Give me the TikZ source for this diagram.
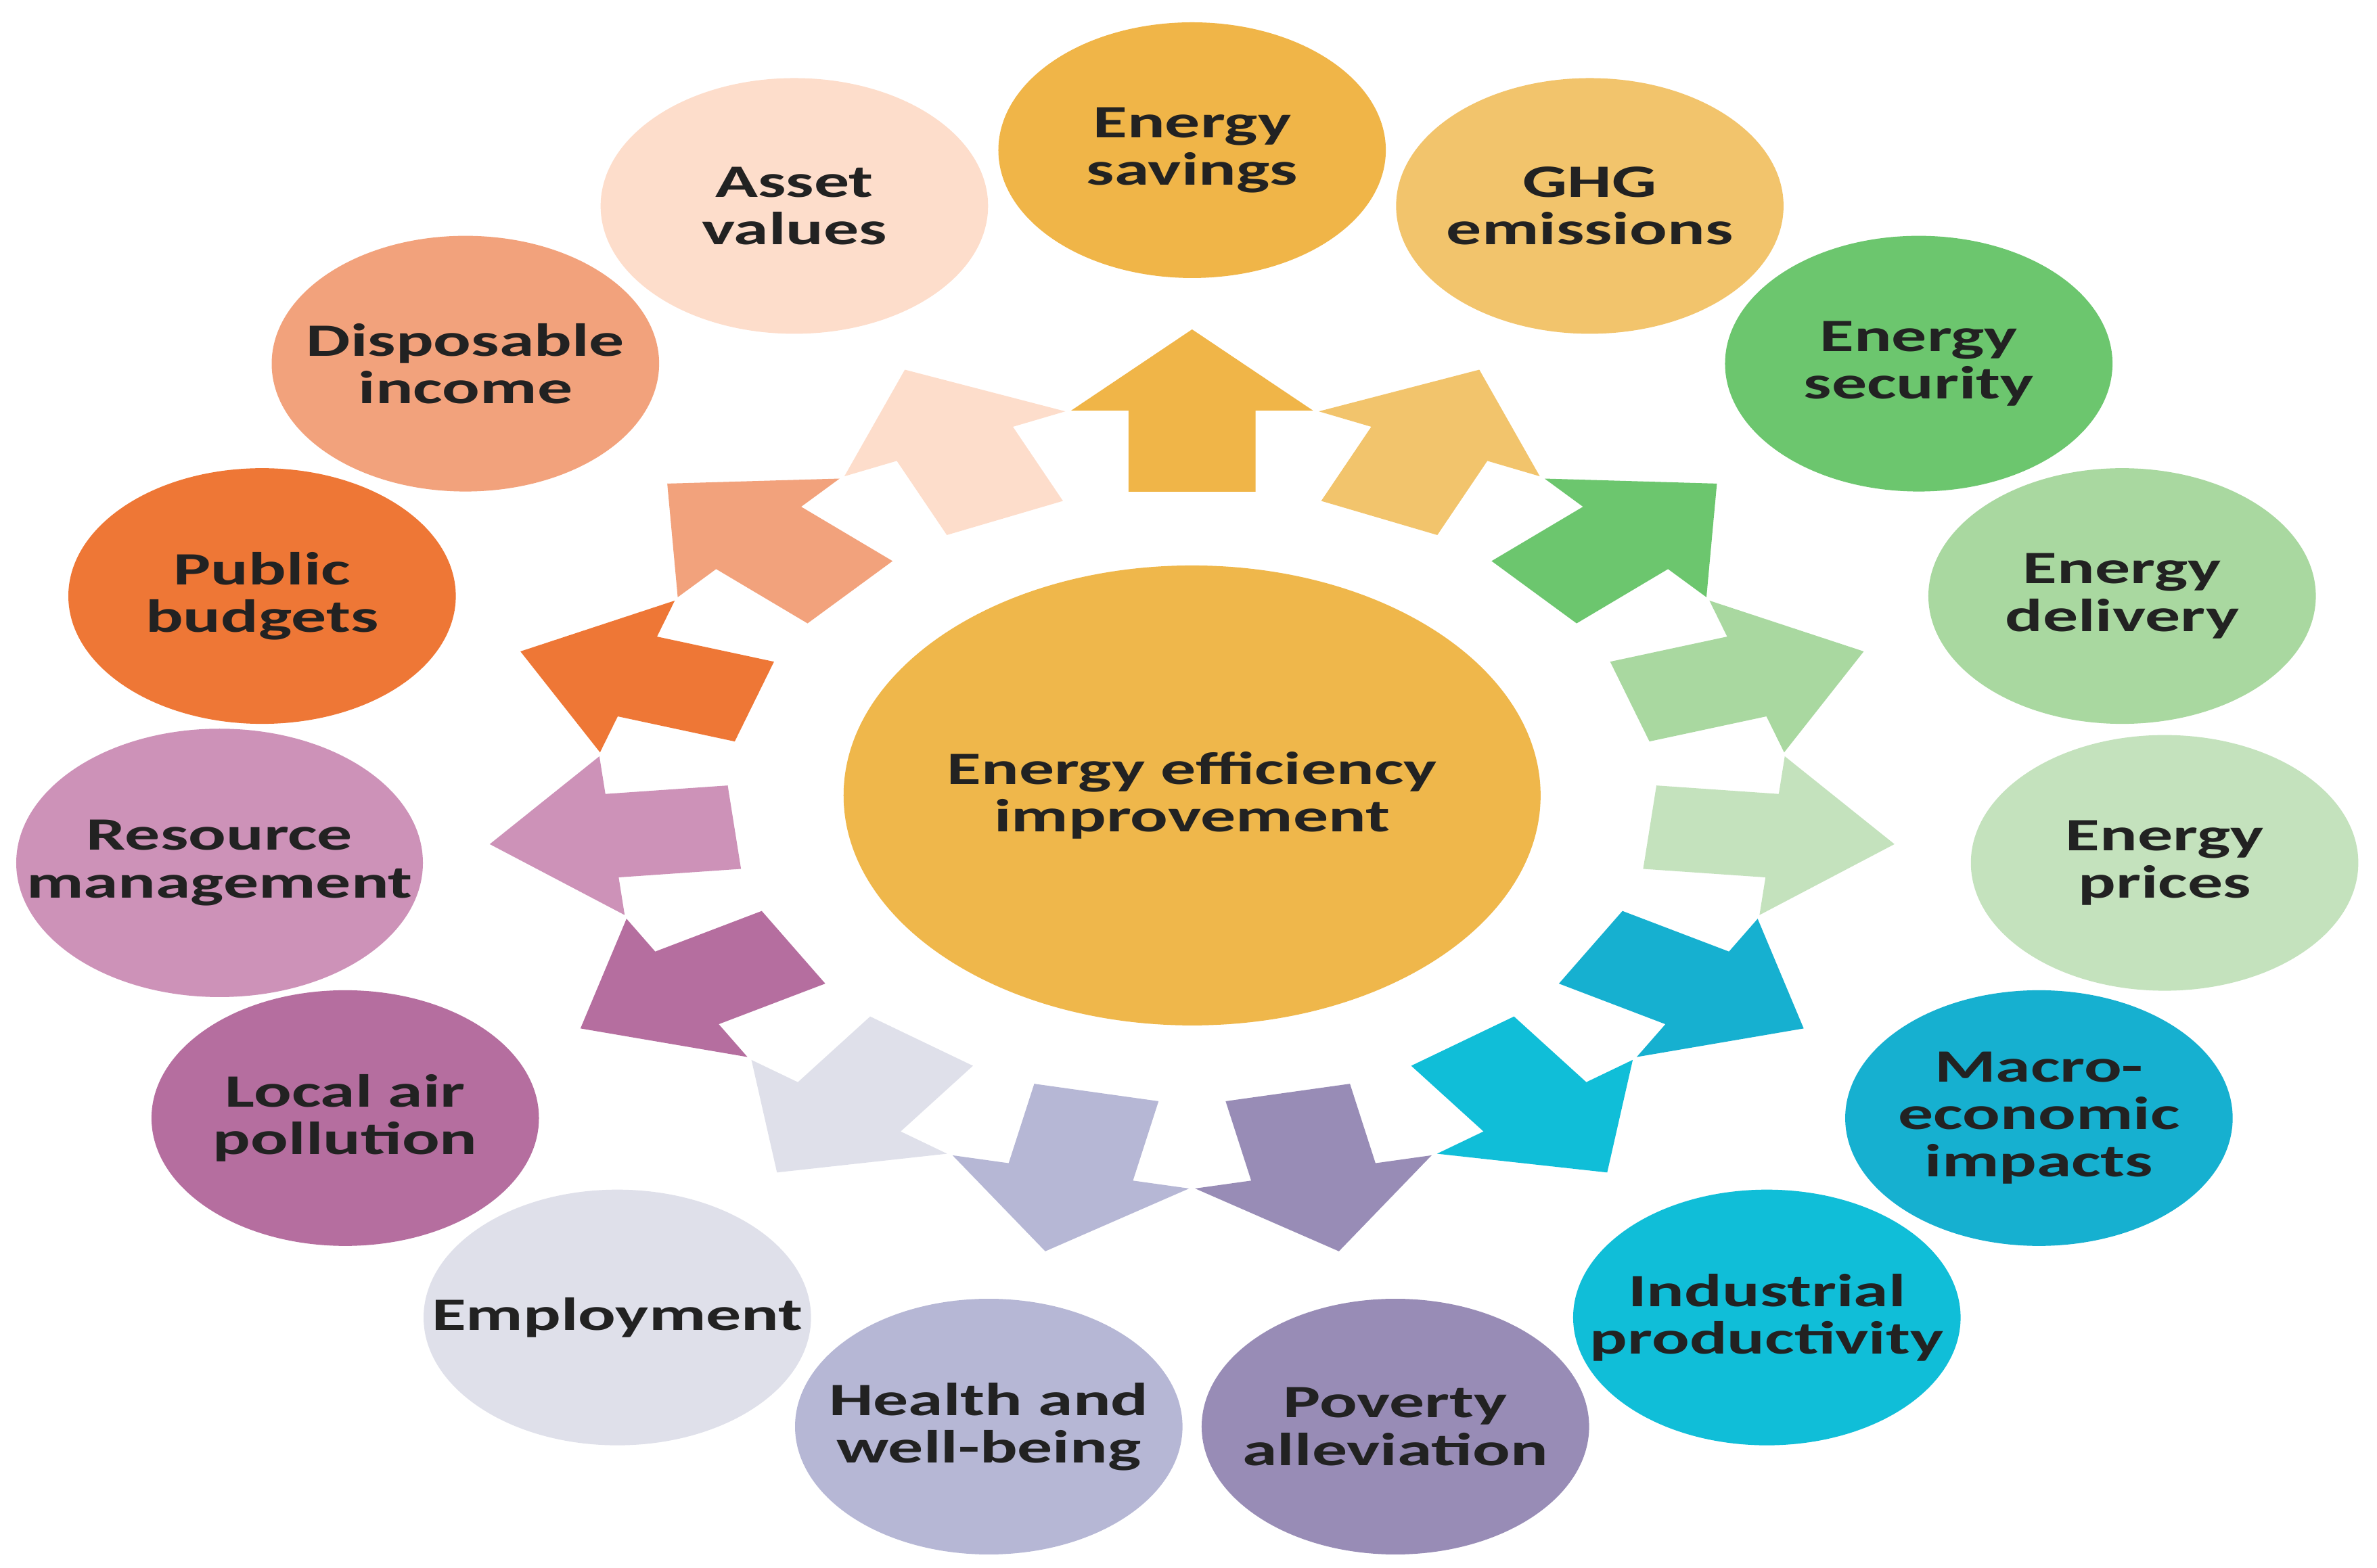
\documentclass[tikz,border=0pt]{standalone}
\usepackage{fontspec}
\setmainfont{Carlito}
\definecolor{hubgold}{HTML}{EFB74B}
\definecolor{savings}{HTML}{F0B548}
\definecolor{ghg}{HTML}{F2C46C}
\definecolor{security}{HTML}{6CC66E}
\definecolor{delivery}{HTML}{A9D8A0}
\definecolor{prices}{HTML}{C4E2BD}
\definecolor{macro}{HTML}{16B0D0}
\definecolor{industry}{HTML}{10BED8}
\definecolor{poverty}{HTML}{988CB6}
\definecolor{health}{HTML}{B6B7D5}
\definecolor{employ}{HTML}{DFE0EA}
\definecolor{airpol}{HTML}{B56E9F}
\definecolor{resource}{HTML}{CD92B8}
\definecolor{budgets}{HTML}{EE7736}
\definecolor{income}{HTML}{F2A27C}
\definecolor{asset}{HTML}{FDDDCB}
\definecolor{textdark}{HTML}{222222}
\tikzstyle{bubble}=[circle, minimum size=3.78cm, inner sep=0pt, align=center, text=textdark, font=\bfseries\fontsize{19.5}{20}\selectfont]
\tikzstyle{hub}=[bubble, minimum size=6.8cm]

\begin{document}
\begin{tikzpicture}[xscale=1.515, every node/.style={transform shape}]
		   \useasboundingbox (-11.63,-11.42) rectangle (11.56,11.76);
		   \begin{scope}
			   \node (hub) at (0, 0)[hub, fill=hubgold] {Energy efficiency\\improvement};
			   \node (savings) at (90:9.54)[bubble, fill=savings] {Energy\\savings};
			   \node (ghg) at (66:9.54)[bubble, fill=ghg] {GHG\\emissions};
			   \node (security) at (42:9.54)[bubble, fill=security] {Energy\\security};
			   \node (delivery) at (18:9.54)[bubble, fill=delivery] {Energy\\delivery};
			   \node (prices) at (-6:9.54)[bubble, fill=prices] {Energy\\prices};
			   \node (macro) at (-30:9.54)[bubble, fill=macro] {Macro-\\economic\\impacts};
			   \node (industry) at (-54:9.54)[bubble, fill=industry] {Industrial\\productivity};
			   \node (poverty) at (-78:9.54)[bubble, fill=poverty] {Poverty\\alleviation};
			   \node (health) at (-102:9.54)[bubble, fill=health] {Health and\\well-being};
			   \node (employ) at (-126:9.54)[bubble, fill=employ] {Employment};
			   \node (airpol) at (-150:9.54)[bubble, fill=airpol] {Local air\\pollution};
			   \node (resource) at (-174:9.54)[bubble, fill=resource] {Resource\\management};
			   \node (budgets) at (162:9.54)[bubble, fill=budgets] {Public\\budgets};
			   \node (income) at (138:9.54)[bubble, fill=income] {Disposable\\income};
			   \node (asset) at (114:9.54)[bubble, fill=asset] {Asset\\values};
		   \end{scope}
		   \begin{scope}
			   % block arrows from the hub out to each bubble
			   \foreach \ang/\col in {90/savings, 66/ghg, 42/security, 18/delivery, -6/prices,
			     -30/macro, -54/industry, -78/poverty, -102/health, -126/employ,
			     -150/airpol, -174/resource, 162/budgets, 138/income, 114/asset}
			     \fill [\col, rotate=\ang] (4.49, -0.62) -- (5.69, -0.62) -- (5.69, -1.18) -- (6.89, 0)
			       -- (5.69, 1.18) -- (5.69, 0.62) -- (4.49, 0.62) -- cycle;
		   \end{scope}
	   \end{tikzpicture}
\end{document}
